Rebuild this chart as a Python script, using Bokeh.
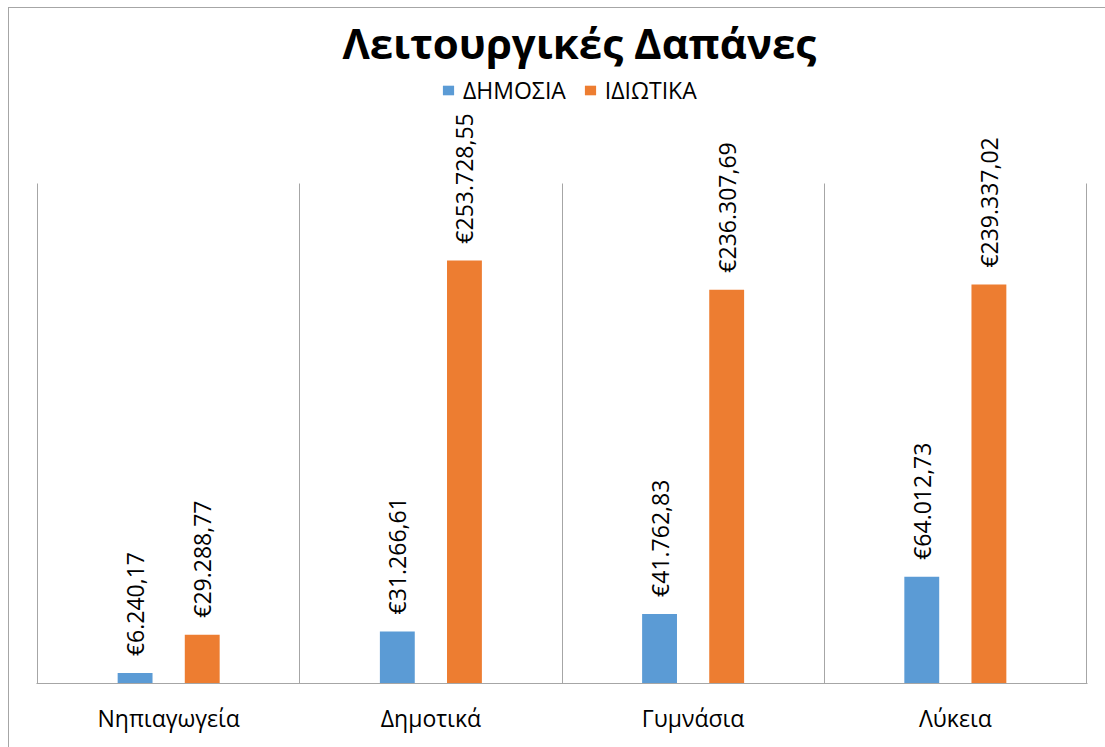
import math
from bokeh.plotting import figure
from bokeh.core.properties import value
from bokeh.models import (ColumnDataSource, FactorRange, Range1d, FixedTicker,
                          LabelSet, Legend, LegendItem)
from bokeh.transform import dodge
from bokeh.embed import file_html
from bokeh.resources import INLINE

categories = ["Νηπιαγωγεία", "Δημοτικά", "Γυμνάσια", "Λύκεια"]
public = [6240.17, 31266.61, 41762.83, 64012.73]
private = [29288.77, 253728.55, 236307.69, 239337.02]
series_names = ["ΔΗΜΟΣΙΑ", "ΙΔΙΩΤΙΚΑ"]
title_text = "Λειτουργικές Δαπάνες"

BLUE = "#5B9BD5"
ORANGE = "#ED7D31"
GRID = "#A6A6A6"
FONT = "Open Sans"


def eur(v):
    s = f"{v:,.2f}"
    s = s.replace(",", "X").replace(".", ",").replace("X", ".")
    return "€" + s


src = ColumnDataSource(dict(
    cat=categories,
    pub=public,
    priv=private,
    pub_lbl=[eur(v) for v in public],
    priv_lbl=[eur(v) for v in private],
))

p = figure(
    x_range=FactorRange(*categories, range_padding=0.004, range_padding_units="absolute"),
    y_range=Range1d(0, 364800),
    width=1105, height=747,
    output_backend="svg", toolbar_location=None,
    min_border_left=36, min_border_right=18, min_border_bottom=64, min_border_top=75,
)
p.outline_line_color = None
p.background_fill_color = "white"
p.border_fill_alpha = 0
p.styles = {
    "background-color": "white",
    "background-image": "linear-gradient(#A6A6A6,#A6A6A6), linear-gradient(#A6A6A6,#A6A6A6)",
    "background-size": "1px 100%, 100% 1px",
    "background-position": "8px 7px, 8px 7px",
    "background-repeat": "no-repeat",
}

off = 0.128
w = 0.133
r_pub = p.vbar(x=dodge("cat", -off, range=p.x_range), top="pub", width=w,
               source=src, fill_color=BLUE, line_color=None)
r_priv = p.vbar(x=dodge("cat", off, range=p.x_range), top="priv", width=w,
                source=src, fill_color=ORANGE, line_color=None)

for col, lbl, d in (("pub", "pub_lbl", -off), ("priv", "priv_lbl", off)):
    ls = LabelSet(x=dodge("cat", d, range=p.x_range), y=col, text=lbl, source=src,
                  angle=math.pi / 2, text_align="left", text_baseline="middle",
                  y_offset=17, text_font=value(FONT), text_font_size=value("23px"),
                  text_color="#000000")
    p.add_layout(ls)

# Title
p.title.text = title_text
p.title.align = "left"
p.title.text_font = FONT
p.title.text_font_style = "bold"
p.title.text_font_size = "42px"
p.title.text_color = "#000000"
p.title.offset = 306

# Axes / grid
p.yaxis.visible = False
p.ygrid.visible = False
p.xgrid.ticker = FixedTicker(ticks=[0, 1, 2, 3, 4])
p.xgrid.cross_bounds = (0, 300000)
p.xgrid.grid_line_color = GRID
p.xgrid.grid_line_width = 1
p.xaxis.axis_line_color = GRID
p.xaxis.major_tick_line_color = None
p.xaxis.minor_tick_line_color = None
p.xaxis.major_label_text_font = FONT
p.xaxis.major_label_text_font_size = "23px"
p.xaxis.major_label_text_color = "#000000"
p.xaxis.major_label_standoff = 12

legend = Legend(items=[LegendItem(label=series_names[0], renderers=[r_pub]),
                       LegendItem(label=series_names[1], renderers=[r_priv])],
                location=(405, 577), orientation="horizontal",
                padding=0, margin=0, spacing=17, label_standoff=8,
                glyph_width=14, glyph_height=12, label_height=28,
                label_text_font=FONT, label_text_font_size="23px",
                label_text_color="#000000",
                border_line_color=None, background_fill_alpha=0)
p.add_layout(legend)

open("out.html", "w").write(file_html(p, INLINE))
